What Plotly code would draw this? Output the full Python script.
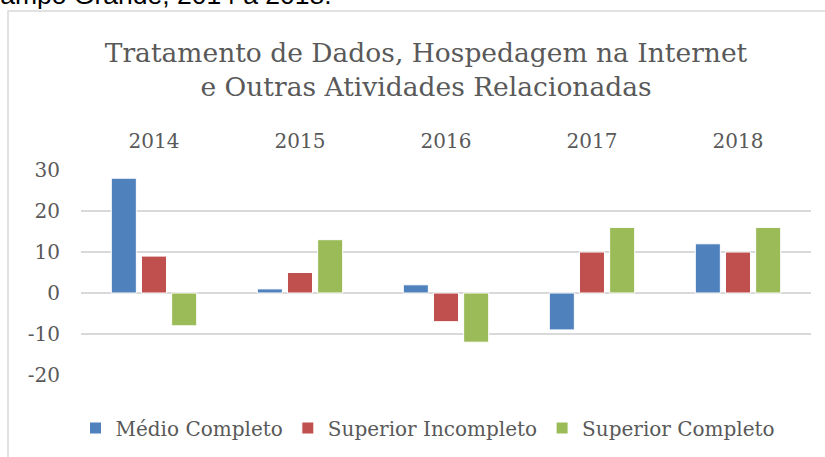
import plotly.graph_objects as go

# values
years = ["2014", "2015", "2016", "2017", "2018"]
medio_completo = [28, 1, 2, -9, 12]
superior_incompleto = [9, 5, -7, 10, 10]
superior_completo = [-8, 13, -12, 16, 16]
y_ticks = [-20, -10, 0, 10, 20, 30]
y_tick_labels = ["-20", "-10", "0", "10", "20", "30"]

W, H = 825, 457
L, R, T, B = 81, 14, 170, 82
PW, PH = W - L - R, H - T - B


def px_x(x):
    return (x - L) / PW


def px_y(y):
    return (H - B - y) / PH


text_grey = "#595959"
serif = "DejaVu Serif"

fig = go.Figure()
for name, vals, colour in [
    ("Médio Completo", medio_completo, "#4F81BD"),
    ("Superior Incompleto", superior_incompleto, "#C0504D"),
    ("Superior Completo", superior_completo, "#9BBB59"),
]:
    fig.add_trace(go.Bar(x=years, y=vals, name=name,
                         marker={"color": colour,
                                 "line": {"color": "white", "width": 1}}))

fig.update_layout(
    width=W, height=H,
    margin={"l": L, "r": R, "t": T, "b": B},
    paper_bgcolor="white", plot_bgcolor="white",
    barmode="group", bargap=0.38, bargroupgap=0.17,
    font={"family": serif, "size": 20, "color": text_grey},
    title={"text": "Tratamento de Dados, Hospedagem na Internet<br>"
                   "e Outras Atividades Relacionadas",
           "x": 426 / W, "xanchor": "center", "xref": "container",
           "y": 1 - 62 / H, "yanchor": "top", "yref": "container",
           "font": {"family": serif, "size": 26.5, "color": text_grey}},
    xaxis={"side": "top", "showgrid": False, "showline": False,
           "ticks": "outside", "ticklen": 13, "tickcolor": "rgba(0,0,0,0)",
           "zeroline": False},
    yaxis={"range": [-20, 30], "tickvals": y_ticks, "ticktext": y_tick_labels,
           "showgrid": True, "gridcolor": "#D9D9D9", "gridwidth": 1.5,
           "zeroline": True, "zerolinecolor": "#D9D9D9", "zerolinewidth": 1.5,
           "ticks": "outside", "ticklen": 16, "tickcolor": "rgba(0,0,0,0)",
           "fixedrange": True},
    legend={"orientation": "h", "x": 428 / W, "xref": "container",
            "xanchor": "center", "y": 1 - 428 / H, "yref": "container",
            "yanchor": "middle", "font": {"size": 20, "color": text_grey}},
    showlegend=True,
)

# chart frame (only its left and top edges fall inside the page)
fig.add_shape(type="rect", xref="paper", yref="paper",
              x0=px_x(8), x1=px_x(W + 10), y0=px_y(H + 10), y1=px_y(11),
              line={"color": "#D9D9D9", "width": 1.5}, fillcolor="rgba(0,0,0,0)",
              layer="below")

# caption of the surrounding document, cut off at the page top
fig.add_annotation(text="Campo Grande, 2014 a 2018.", xref="paper", yref="paper",
                   x=px_x(334), y=px_y(12), xanchor="right", yanchor="bottom",
                   showarrow=False,
                   font={"family": "Liberation Sans", "size": 26.5, "color": "black"})

# drop the default page margin so the figure sits at the window corner
fig.write_html("out.html", config={"displayModeBar": False},
               post_script="document.body.style.margin = '0';")
